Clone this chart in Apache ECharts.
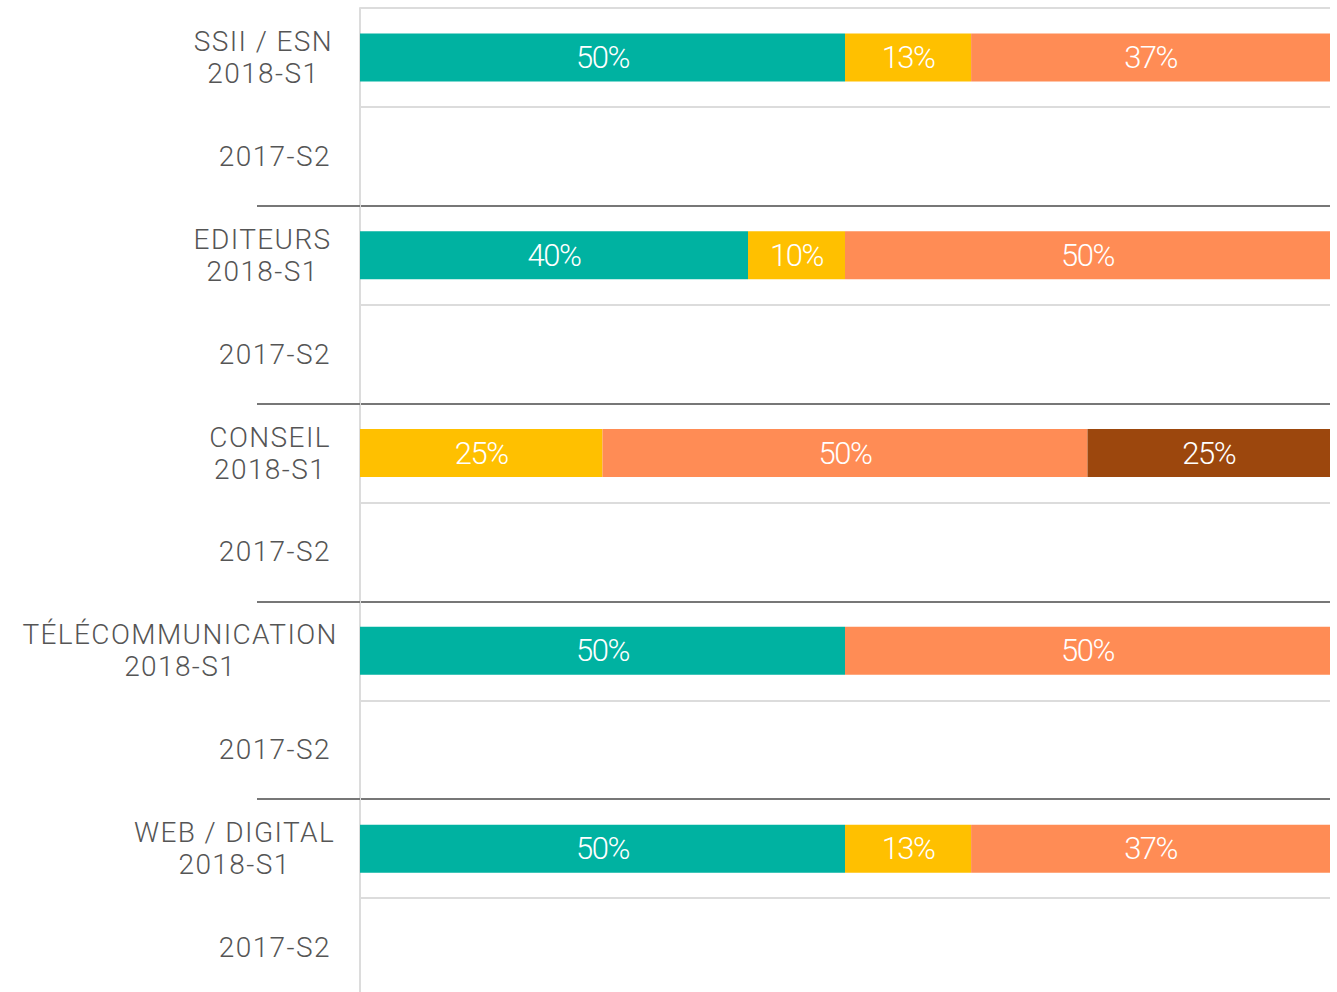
<!DOCTYPE html>
<html>
<head>
<meta charset="utf-8">
<script src="https://cdn.jsdelivr.net/npm/echarts@6/dist/echarts.min.js"></script>
<style>
  html, body { margin: 0; padding: 0; background: #fff; }
  #main { width: 1337px; height: 992px; }
  /* espacement des lettres pour les libellés d'axe */
  #main svg text { letter-spacing: 1.4px; }
  #main svg text[style*="Narrow"] { letter-spacing: -1.5px; }
</style>
</head>
<body>
<div id="main"></div>
<script>
var groupes = ['SSII / ESN', 'EDITEURS', 'CONSEIL', 'TÉLÉCOMMUNICATION', 'WEB / DIGITAL'];
var periodes = ['2018-S1', '2017-S2'];

// valeurs en % par ligne (2018-S1 puis 2017-S2 pour chaque groupe)
var serie1 = [50, null, 40, null, null, null, 50, null, 50, null];
var serie2 = [13, null, 10, null, 25, null, null, null, 13, null];
var serie3 = [37, null, 50, null, 50, null, 50, null, 37, null];
var serie4 = [null, null, null, null, 25, null, null, null, null, null];

var couleurs = ['#00b2a1', '#ffc000', '#ff8c55', '#9c470d'];

document.addEventListener('DOMContentLoaded', function () {
    var myChart = echarts.init(document.getElementById('main'), null, {renderer: 'svg'});

    var categories = [];
    groupes.forEach(function (g) {
        periodes.forEach(function (p) {
            categories.push(g + '|' + p);
        });
    });

    var etiquette = {
        show: true,
        position: 'inside',
        color: '#fff',
        fontSize: 31,
        fontWeight: 300,
        fontFamily: '"Liberation Sans Narrow", "Roboto"',
        formatter: function (p) {
            return p.value ? p.value + '%' : '';
        }
    };

    function serie(nom, data, i) {
        return {
            name: nom,
            type: 'bar',
            stack: 'total',
            barWidth: 48,
            itemStyle: {color: couleurs[i]},
            label: etiquette,
            data: data
        };
    }

    var option = {
        animation: false,
        grid: {
            left: 360,
            top: 8,
            right: 7,
            height: 989,
            outerBoundsMode: 'none'
        },
        xAxis: {
            type: 'value',
            min: 0,
            max: 100,
            show: false
        },
        yAxis: [
            {
                type: 'category',
                inverse: true,
                data: categories,
                axisLine: {lineStyle: {color: '#dcdcdc', width: 2}},
                axisTick: {show: false},
                splitLine: {show: true, lineStyle: {color: '#dcdcdc', width: 2}},
                axisLabel: {
                    margin: 34,
                    formatter: function (value) {
                        var parts = value.split('|');
                        if (parts[1] === '2018-S1') {
                            return '{c|' + parts[0] + '}\n{c|' + parts[1] + '}';
                        }
                        return '{c|' + parts[1] + '}';
                    },
                    rich: {
                        c: {
                            align: 'center',
                            fontSize: 28,
                            lineHeight: 32,
                            color: '#555',
                            fontFamily: 'Roboto',
                            fontWeight: 300
                        }
                    }
                }
            },
            {
                type: 'category',
                inverse: true,
                position: 'left',
                data: groupes,
                axisLine: {show: false},
                axisLabel: {show: false},
                axisTick: {
                    show: true,
                    length: 103,
                    interval: function (i) { return i > 0; },
                    lineStyle: {color: '#777', width: 2}
                },
                splitLine: {
                    show: true,
                    showMinLine: false,
                    lineStyle: {color: '#777', width: 2}
                }
            }
        ],
        series: [
            serie('Série 1', serie1, 0),
            serie('Série 2', serie2, 1),
            serie('Série 3', serie3, 2),
            serie('Série 4', serie4, 3)
        ]
    };

    myChart.setOption(option);

    window.onresize = function () {
        myChart.resize();
    };
});
</script>
</body>
</html>
